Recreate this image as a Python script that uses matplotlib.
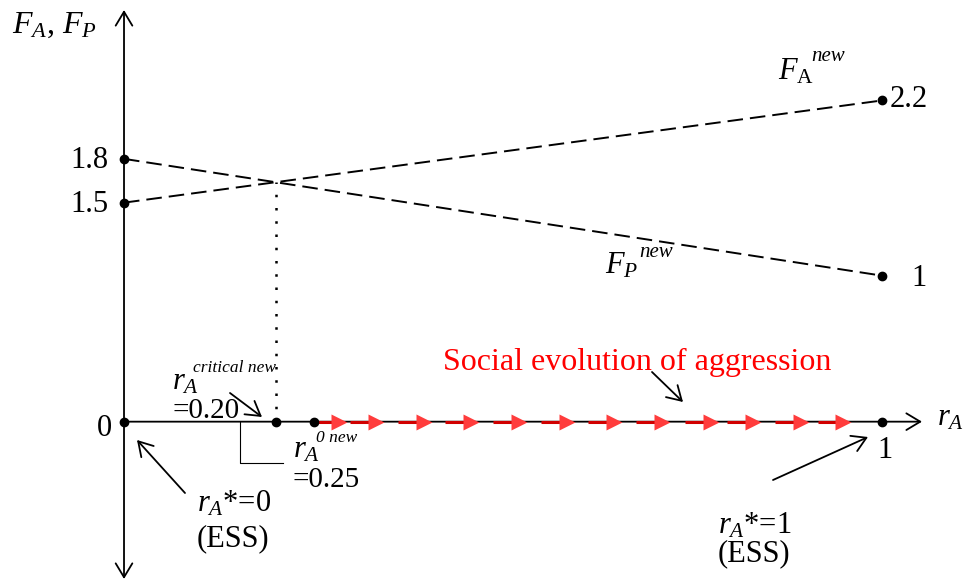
import numpy as np
import matplotlib.pyplot as plt

plt.rcParams['font.family'] = 'Liberation Serif'
plt.rcParams['mathtext.fontset'] = 'custom'
plt.rcParams['mathtext.rm'] = 'Liberation Serif'
plt.rcParams['mathtext.it'] = 'Liberation Serif:italic'

# values
r_ends = [0, 1]
fa_new = [1.5, 2.2]
fp_new = [1.8, 1.0]
r_critical = 0.20
r_zero = 0.25
ess_points = [0, 1]
y_tick_values = [1.5, 1.8]
# red arrows along the r_A axis (social evolution of aggression)
flow_arrows = [0.284, 0.332, 0.396, 0.458, 0.521, 0.584, 0.646,
               0.710, 0.774, 0.830, 0.893, 0.949]
shaft_len = 0.034

W, H = 966, 583
fig = plt.figure(figsize=(W / 100, H / 100), dpi=100)
ax = fig.add_axes([0, 0, 1, 1])
ax.set_xlim(-0.1636, 1.1108)
ax.set_ylim(-1.105, 2.888)
ax.axis('off')


def px(x, y):
    # pixel position (from top-left) -> figure fraction
    return (x / W, 1 - y / H)


def ptext(x, y, s, **kw):
    fig.text(*px(x, y), s, va='baseline', ha=kw.pop('ha', 'left'), **kw)


arrow_kw = dict(arrowstyle='->, head_length=0.5, head_width=0.3',
                lw=1.3, color='k', shrinkA=0, shrinkB=0, mutation_scale=20)

# axes with arrows
ax.annotate('', xy=(0, 1 - 10 / H), xytext=(0, 1 - 579 / H),
            xycoords=('data', 'figure fraction'),
            arrowprops=dict(arrow_kw, arrowstyle='<->, head_length=0.5, head_width=0.3'))
ax.annotate('', xy=(922 / W, 0), xytext=(0, 0),
            xycoords=('figure fraction', 'data'), textcoords='data',
            arrowprops=arrow_kw)

# fitness lines
ax.plot(r_ends, fa_new, color='k', lw=1.4, ls=(0, (8, 3.6)))
ax.plot(r_ends, fp_new, color='k', lw=1.4, ls=(0, (8, 3.6)))

# dotted line at critical point
f_cross = np.interp(r_critical, r_ends, fa_new)
ax.plot([r_critical, r_critical], [0, f_cross], color='k', lw=1.8,
        ls=(0, (1, 4.3)))

# red flow arrows
for c in flow_arrows:
    ax.plot([max(c - shaft_len, r_zero), c], [0, 0], color='#d00000', lw=2.2,
            solid_capstyle='butt', zorder=3)
ax.plot(flow_arrows, np.zeros(len(flow_arrows)), '>', color='#ff3c3c',
        ms=11, mec='none', zorder=4)

# end points
ax.plot([0, 0], fa_new[:1] + fp_new[:1], 'ko', ms=6, zorder=5)
ax.plot([1, 1], fa_new[1:] + fp_new[1:], 'ko', ms=6, zorder=5)
ax.plot(ess_points + [r_critical, r_zero], [0, 0, 0, 0], 'ko', ms=6, zorder=5)

fs = 22
# value labels
for v in y_tick_values:
    ax.annotate(f'{v}', xy=(0, v), xytext=(-16, -9), textcoords='offset pixels',
                ha='right', va='baseline', fontsize=fs)
ax.annotate('0', xy=(0, 0), xytext=(-12, -14), textcoords='offset pixels',
            ha='right', va='baseline', fontsize=fs)
ax.annotate(f'{fa_new[1]}', xy=(1, fa_new[1]), xytext=(8, -7),
            textcoords='offset pixels', ha='left', va='baseline', fontsize=fs)
ax.annotate(f'{fp_new[1]:g}', xy=(1, fp_new[1]), xytext=(29, -10),
            textcoords='offset pixels', ha='left', va='baseline', fontsize=fs)
ax.annotate('1', xy=(1, 0), xytext=(3, -36), textcoords='offset pixels',
            ha='center', va='baseline', fontsize=fs)

# axis titles
ptext(12, 33, r'$F_A$, $F_P$', fontsize=23)
ptext(937, 425, r'$r_A$', fontsize=fs)

# line labels
ptext(778, 80, r'$F_\mathrm{A}$', fontsize=fs)
ptext(811, 61, 'new', fontsize=15, style='italic')
ptext(605, 273, r'$F_P$', fontsize=fs)
ptext(639, 257, 'new', fontsize=15, style='italic')

# social evolution
ptext(443, 370, 'Social evolution of aggression', fontsize=23, color='#ff0000')
ax.annotate('', xy=px(683, 402), xytext=px(652, 372), xycoords='figure fraction',
            arrowprops=arrow_kw)

# critical point label
ptext(172, 390, r'$r_A$', fontsize=fs)
ptext(193, 372, 'critical new', fontsize=12.5, style='italic')
ptext(172, 418, '=0.20', fontsize=21)
ax.annotate('', xy=px(262, 417), xytext=px(230, 393), xycoords='figure fraction',
            arrowprops=arrow_kw)

# r_A^0 label with bracket
ptext(293, 458, r'$r_A$', fontsize=fs)
ptext(316, 442, '0 new', fontsize=12.5, style='italic')
ptext(293, 487, '=0.25', fontsize=21)
bx, by = zip(px(240, 422), px(240, 463), px(283, 463))
ax.plot(bx, by, color='k', lw=0.8, transform=fig.transFigure)

# ESS labels
ptext(197, 512, r'$r_A$*=0', fontsize=fs)
ptext(197, 546, '(ESS)', fontsize=fs)
ax.annotate('', xy=px(137, 440), xytext=px(185, 493), xycoords='figure fraction',
            arrowprops=arrow_kw)
ptext(718, 533, r'$r_A$*=1', fontsize=fs)
ptext(718, 561, '(ESS)', fontsize=fs)
ax.annotate('', xy=px(868, 437), xytext=px(773, 480), xycoords='figure fraction',
            arrowprops=arrow_kw)

fig.savefig('out.png', dpi=100)
